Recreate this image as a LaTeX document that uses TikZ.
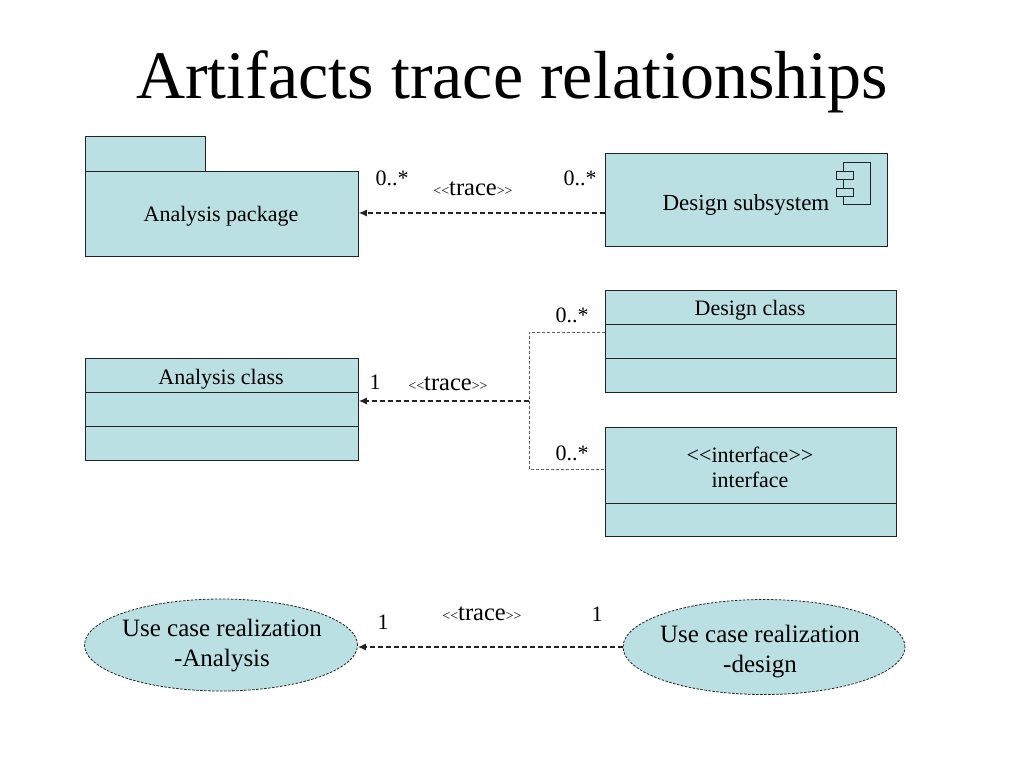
\documentclass[tikz,border=0pt]{standalone}
\usepackage{fontspec}
\setmainfont{Liberation Serif}
\usetikzlibrary{arrows.meta,shapes.geometric}
\definecolor{boxfill}{RGB}{187,224,227}
\definecolor{edgec}{RGB}{35,35,35}
\definecolor{greyd}{RGB}{95,95,95}
\newcommand\lt{<\kern0pt<}
\newcommand\gt{>\kern0pt>}
\newcommand\trc{{\fontsize{14}{14}\selectfont\lt}trace{\fontsize{14}{14}\selectfont\gt}}
\begin{document}
\begin{tikzpicture}[x=1pt,y=-1pt,
  box/.style={draw=edgec,fill=boxfill,line width=0.9pt,inner sep=0pt,anchor=north west},
  txt/.style={font=\fontsize{22}{26}\selectfont,inner sep=0pt,anchor=base},
  lbl/.style={font=\fontsize{22}{26}\selectfont,inner sep=0pt,anchor=base},
  trl/.style={font=\fontsize{24.5}{28}\selectfont,inner sep=0pt,anchor=base},
  ucase/.style={ellipse,draw=edgec,fill=boxfill,line width=0.8pt,dash pattern=on 2.5pt off 1.5pt,inner sep=0pt},
  uctxt/.style={inner sep=0pt,align=center,font=\fontsize{25}{30}\selectfont},
  dep/.style={draw=edgec,line width=1.1pt,dash pattern=on 5pt off 3pt,-{Latex[length=8pt,width=7pt]}},
  branch/.style={draw=greyd,line width=0.8pt,dash pattern=on 3pt off 2pt}
]
\useasboundingbox (0,0) rectangle (1024,768);

% title
\node[inner sep=0pt,anchor=base,font=\fontsize{68}{80}\selectfont] (title) at (512,98) {Artifacts trace relationships};

% analysis package
\node[box,minimum width=120pt,minimum height=35pt] (tab) at (85,136) {};
\node[box,minimum width=273pt,minimum height=85pt] (pkg) at (85,171) {};
\node[txt] (pkgt) at (221,221) {Analysis package};

% design subsystem
\node[box,minimum width=282pt,minimum height=93pt] (ds) at (605,153) {};
\node[txt,font=\fontsize{23}{27}\selectfont] (dst) at (746,210) {Design subsystem};
\draw[edgec,line width=0.9pt] (843,162) rectangle (870,204);
\draw[edgec,line width=0.9pt,fill=boxfill] (836,171) rectangle (853,179);
\draw[edgec,line width=0.9pt,fill=boxfill] (836,188) rectangle (853,196);

% top connector
\draw[dep] (ds.west |- 0,213) -- (pkg.east |- 0,213);
\node[lbl] (m1) at (392,185) {0..*};
\node[trl] (t1) at (473,195) {\trc};
\node[lbl] (m2) at (580,185) {0..*};

% analysis class
\node[box,minimum width=273pt,minimum height=102pt] (ac) at (85,358) {};
\draw[edgec,line width=0.9pt] (ac.west |- 0,392) -- (ac.east |- 0,392);
\draw[edgec,line width=0.9pt] (ac.west |- 0,426) -- (ac.east |- 0,426);
\node[txt] (act) at (221,384) {Analysis class};

% design class
\node[box,minimum width=291pt,minimum height=102pt] (dc) at (605,290) {};
\draw[edgec,line width=0.9pt] (dc.west |- 0,324) -- (dc.east |- 0,324);
\draw[edgec,line width=0.9pt] (dc.west |- 0,358) -- (dc.east |- 0,358);
\node[txt] (dct) at (750,315) {Design class};

% interface
\node[box,minimum width=291pt,minimum height=109pt] (if) at (605,427) {};
\draw[edgec,line width=0.9pt] (if.west |- 0,503) -- (if.east |- 0,503);
\node[txt] (ift1) at (750,462) {\lt interface\gt};
\node[txt] (ift2) at (750,487) {interface};

% middle connectors
\coordinate (j) at (529,401);
\coordinate (jt) at (529,332);
\coordinate (jb) at (529,469);
\draw[branch] (dc.west |- jt) -- (jt) -- (jb) -- (if.west |- jb);
\draw[dep] (j) -- (ac.east |- j);
\node[lbl] (m3) at (572,322) {0..*};
\node[lbl] (m4) at (572,460) {0..*};
\node[lbl] (m5) at (375,389) {1};
\node[trl] (t2) at (448,390) {\trc};

% use case realizations
\node[ucase,minimum width=273pt,minimum height=92pt] (uca) at (221,645) {};
\node[uctxt] (ucat) at (222,646) {Use case realization\\-Analysis};
\node[ucase,minimum width=282pt,minimum height=95pt] (ucd) at (764,647) {};
\node[uctxt] (ucdt) at (760,652) {Use case realization\\-design};
\draw[dep] (ucd.west) -- (uca.east |- ucd.west);
\node[lbl] (m6) at (383,629) {1};
\node[trl] (t3) at (482,620) {\trc};
\node[lbl] (m7) at (597,621) {1};
\end{tikzpicture}
\end{document}
